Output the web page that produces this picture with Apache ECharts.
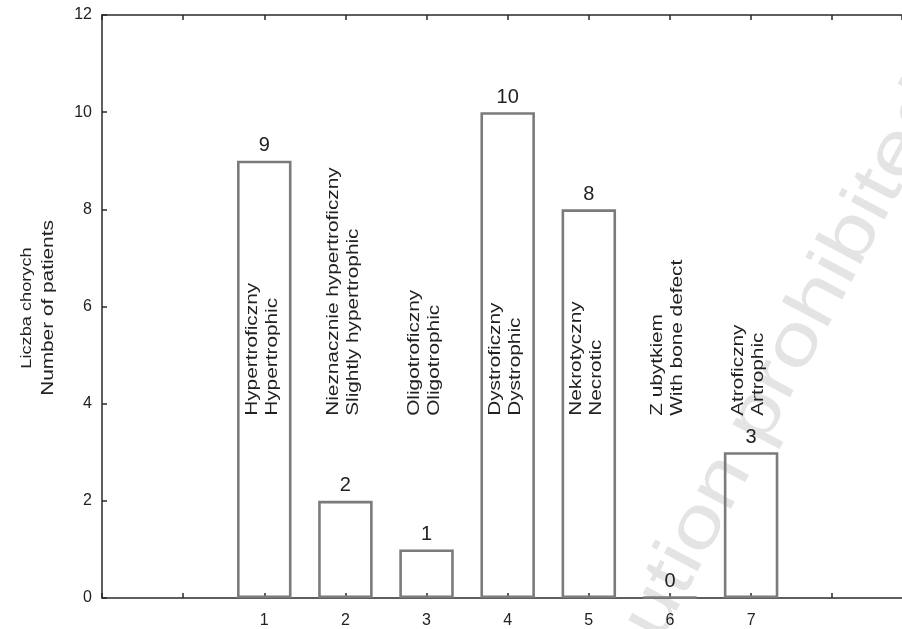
<!DOCTYPE html>
<html>
<head>
<meta charset="utf-8">
<script src="https://cdn.jsdelivr.net/npm/echarts@6/dist/echarts.min.js"></script>
<style>html,body{margin:0;padding:0;background:#fff;}#c{width:902px;height:629px;}</style>
</head>
<body>
<div id="c"></div>
<script>
// ---- data ----
const positions = [1, 2, 3, 4, 5, 6, 7];
const values = [9, 2, 1, 10, 8, 0, 3];
const namesPL = ['Hypertroficzny', 'Nieznacznie hypertroficzny', 'Oligotroficzny', 'Dystroficzny', 'Nekrotyczny', 'Z ubytkiem', 'Atroficzny'];
const namesEN = ['Hypertrophic', 'Slightly hypertrophic', 'Oligotrophic', 'Dystrophic', 'Necrotic', 'With bone defect', 'Artrophic'];
const xTickLabels = ['1', '2', '3', '4', '5', '6', '7'];
const yTitlePL = 'Liczba chorych';
const yTitleEN = 'Number of patients';
const watermark = 'Distribution prohibited';

const FONT = "'Liberation Sans', Arial, Helvetica, sans-serif";
const chart = echarts.init(document.getElementById('c'), null, {renderer: 'canvas'});

const labelBaseValue = 3.75;
const xMin = -1, xMax = 8.86;

const axisCommon = {
  axisLine: {show: true, onZero: false, lineStyle: {color: '#2a2a2a', width: 1.5}},
  axisTick: {show: true, inside: true, length: 5, lineStyle: {color: '#2a2a2a', width: 1.5}},
  splitLine: {show: false}
};

chart.setOption({
  animation: false,
  backgroundColor: '#fff',
  grid: {left: 102, right: 0, top: 15, bottom: 29, containLabel: false},
  xAxis: [
    Object.assign({
      type: 'value', min: xMin, max: xMax, interval: 1, position: 'bottom',
      axisLabel: {
        show: true, margin: 15, color: '#222', fontSize: 16, fontFamily: FONT,
        showMaxLabel: false,
        formatter: function (v) { const i = positions.indexOf(v); return i >= 0 ? xTickLabels[i] : ''; }
      }
    }, axisCommon),
    Object.assign({
      type: 'value', min: xMin, max: xMax, interval: 1, position: 'top',
      axisLabel: {show: false}
    }, axisCommon)
  ],
  yAxis: Object.assign({
    type: 'value', min: 0, max: 12, interval: 2,
    axisLabel: {margin: 10, color: '#222', fontSize: 16, fontFamily: FONT}
  }, axisCommon),
  graphic: {
    elements: [
      {
        type: 'text', x: 521, y: 861, rotation: 62 * Math.PI / 180, scaleX: 1.26, z: -10, silent: true,
        style: {text: watermark, fill: '#e4e4e4', fontSize: 72, fontFamily: FONT, align: 'left', verticalAlign: 'middle'}
      },
      {
        type: 'text', x: 27, y: 308, rotation: Math.PI / 2, scaleX: 1.3, silent: true,
        style: {text: yTitlePL, fill: '#222', fontSize: 14, fontFamily: FONT, align: 'center', verticalAlign: 'middle'}
      },
      {
        type: 'text', x: 49, y: 308, rotation: Math.PI / 2, scaleX: 1.3, silent: true,
        style: {text: yTitleEN, fill: '#222', fontSize: 16, fontFamily: FONT, align: 'center', verticalAlign: 'middle'}
      }
    ]
  },
  series: [
    {
      type: 'bar',
      data: positions.map((p, i) => [p, values[i]]),
      barWidth: 54.5,
      barMinHeight: 1,
      itemStyle: {color: 'rgba(255,255,255,0)', borderColor: '#7b7b7b', borderWidth: 2.6},
      label: {show: true, position: 'top', distance: 5, color: '#222', fontSize: 20, fontFamily: FONT},
      z: 3
    },
    {
      type: 'custom',
      coordinateSystem: 'cartesian2d',
      silent: true,
      z: 4,
      data: positions.map((p, i) => [p, i]),
      renderItem: function (params, api) {
        const i = api.value(1);
        const pt = api.coord([api.value(0), labelBaseValue]);
        return {
          type: 'text',
          x: pt[0] - 2, y: pt[1],
          rotation: Math.PI / 2,
          scaleX: 1.3,
          style: {
            text: namesPL[i] + '\n' + namesEN[i],
            fill: '#222', fontSize: 16, fontFamily: FONT, lineHeight: 20,
            align: 'left', verticalAlign: 'middle'
          }
        };
      }
    }
  ]
});
</script>
</body>
</html>
